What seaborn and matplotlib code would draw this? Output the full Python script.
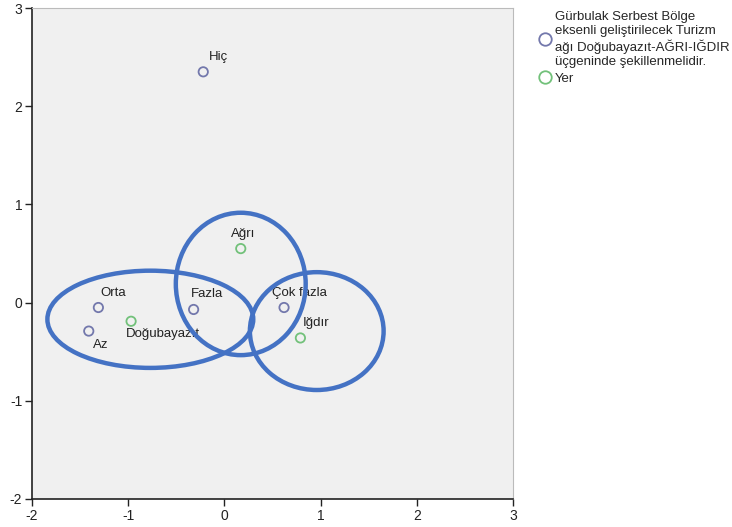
import matplotlib
matplotlib.use("Agg")
import matplotlib.pyplot as plt
from matplotlib.patches import Ellipse
from matplotlib.lines import Line2D
import seaborn as sns
import pandas as pd

row_labels = ["Hiç", "Az", "Orta", "Fazla", "Çok fazla"]
row_x = [-0.22, -1.41, -1.31, -0.32, 0.62]
row_y = [2.35, -0.29, -0.05, -0.07, -0.05]
col_labels = ["Ağrı", "Doğubayazıt", "Iğdır"]
col_x = [0.17, -0.97, 0.79]
col_y = [0.55, -0.19, -0.36]
row_name = "Gürbulak Serbest Bölge\neksenli geliştirilecek Turizm\nağı Doğubayazıt-AĞRI-IĞDIR\nüçgeninde şekillenmelidir."
col_name = "Yer"

df = pd.DataFrame({
    "x": row_x + col_x,
    "y": row_y + col_y,
    "label": row_labels + col_labels,
    "group": [row_name] * len(row_labels) + [col_name] * len(col_labels),
})

sns.set_theme(style="white")
plt.rcParams["font.family"] = ["Liberation Sans", "DejaVu Sans"]
plt.rcParams["axes.unicode_minus"] = False

fig = plt.figure(figsize=(7.32, 5.27), dpi=100)
ax = fig.add_axes([32/732, 28/527, 481/732, 491/527])
ax.set_facecolor("#F0F0F0")

palette = {row_name: "#7378AC", col_name: "#72C17A"}
sns.scatterplot(data=df, x="x", y="y", hue="group", palette=palette, ax=ax,
                s=45, marker="o", legend=False, zorder=3)
for coll in ax.collections:
    fc = coll.get_facecolors()
    coll.set_edgecolors(fc)
    coll.set_facecolors("none")
    coll.set_linewidth(1.3)

offsets = {
    "Hiç": (15, -15),
    "Az": (12, 14),
    "Orta": (15, -15),
    "Fazla": (13, -15),
    "Çok fazla": (15, -15),
    "Ağrı": (2, -15),
    "Doğubayazıt": (32, 13),
    "Iğdır": (16, -15),
}
for _, r in df.iterrows():
    dx, dy = offsets[r["label"]]
    ax.annotate(r["label"], (r["x"], r["y"]), xytext=(dx, -dy), textcoords="offset pixels",
                ha="center", va="center", fontsize=9.5, color="#222222", zorder=4)

ell_color = "#4472C4"
for (cx, cy, w, h) in [(-0.77, -0.17, 2.14, 0.99), (0.17, 0.19, 1.35, 1.45), (0.96, -0.29, 1.39, 1.20)]:
    ax.add_patch(Ellipse((cx, cy), w, h, fill=False, edgecolor=ell_color, linewidth=3.2, zorder=5))

ax.set_xlim(-2, 3)
ax.set_ylim(-2, 3)
ax.set_xticks([-2, -1, 0, 1, 2, 3])
ax.set_yticks([-2, -1, 0, 1, 2, 3])
ax.set_xlabel("")
ax.set_ylabel("")
ax.tick_params(axis="both", which="both", direction="out", length=5, width=1,
               labelsize=10, colors="#222222", left=True, bottom=True, pad=2)
for side in ["left", "bottom"]:
    ax.spines[side].set_color("#222222")
    ax.spines[side].set_linewidth(1.2)
for side in ["top", "right"]:
    ax.spines[side].set_color("#BBBBBB")
    ax.spines[side].set_linewidth(0.8)

handles = [Line2D([], [], marker="o", linestyle="none", markersize=9, markerfacecolor="none",
                  markeredgecolor=palette[g], markeredgewidth=1.3) for g in [row_name, col_name]]
fig.legend(handles, [row_name, col_name], loc="upper left", bbox_to_anchor=(530/732, 1 - 6/527),
           frameon=False, fontsize=9.5, handletextpad=0.0, handlelength=1.5, labelspacing=0.35,
           borderaxespad=0)

fig.savefig("out.png", dpi=100, facecolor="white")
